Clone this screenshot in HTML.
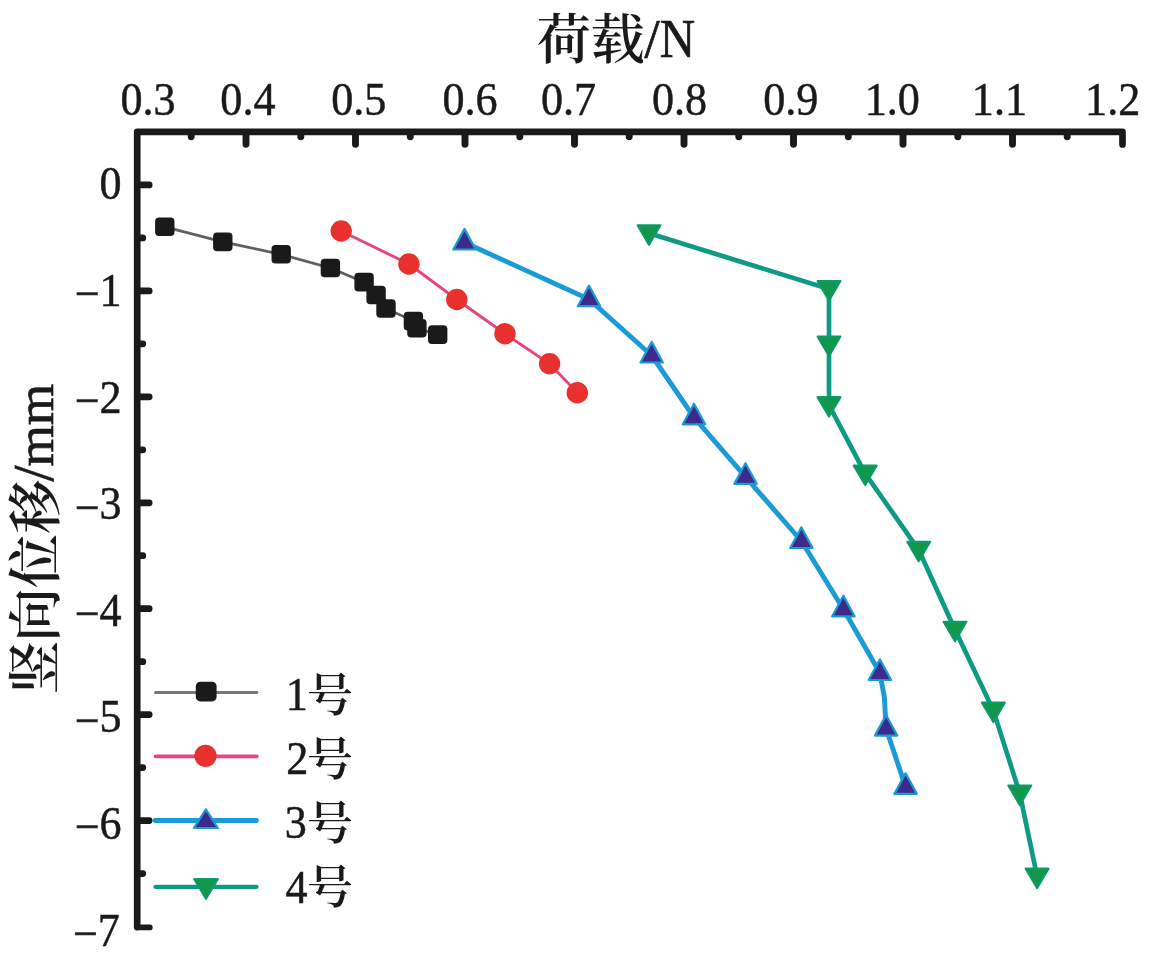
<!DOCTYPE html>
<html lang="zh"><head><meta charset="utf-8"><title>荷载-竖向位移</title>
<style>
html,body{margin:0;padding:0;background:#fff;}
body{width:1160px;height:959px;overflow:hidden;}
svg{display:block;filter:blur(.45px);}
text{font-family:"Liberation Serif","Noto Serif CJK SC",serif;fill:#1a1a1a;}
.tk{font-size:46.6px;stroke:#1a1a1a;stroke-width:.5px;}
.cj{font-size:54px;font-weight:600;}
.la{font-size:54.4px;stroke:#1a1a1a;stroke-width:.7px;}
.lc{font-size:46px;font-weight:600;}
</style></head><body>
<svg width="1160" height="959" viewBox="0 0 1160 959">
<rect width="1160" height="959" fill="#fff"/>

<g fill="none" stroke="#1a1a1a" stroke-linecap="round" stroke-linejoin="round">
<path stroke-width="6.7" d="M137.2 926.9 V131.8 H1122.5 V144.4"/>
<path stroke-width="5.7" d="M137.2 927.4 H149.8"/>
<path stroke-width="6.9" d="M246.0 132.8 V144.2 M355.5 132.8 V144.2 M465.0 132.8 V144.2 M574.5 132.8 V144.2 M684.0 132.8 V144.2 M793.5 132.8 V144.2 M903.0 132.8 V144.2 M1012.5 132.8 V144.2"/>
<path stroke-width="6.9" d="M191.2 132.8 V136.8 M300.8 132.8 V136.8 M410.3 132.8 V136.8 M519.8 132.8 V136.8 M629.2 132.8 V136.8 M738.8 132.8 V136.8 M848.3 132.8 V136.8 M957.8 132.8 V136.8 M1067.2 132.8 V136.8"/>
<path stroke-width="6.7" d="M138.2 184.9 H149.2 M138.2 290.9 H149.2 M138.2 396.8 H149.2 M138.2 502.8 H149.2 M138.2 608.7 H149.2 M138.2 714.6 H149.2 M138.2 820.6 H149.2"/>
<path stroke-width="6.7" d="M138.2 237.9 H142.8 M138.2 343.8 H142.8 M138.2 449.8 H142.8 M138.2 555.7 H142.8 M138.2 661.7 H142.8 M138.2 767.6 H142.8 M138.2 873.6 H142.8"/>
</g>
<text class="tk" transform="translate(120.50 114.7) scale(0.947 1)">0.3</text>
<text class="tk" transform="translate(220.35 114.7) scale(0.947 1)">0.4</text>
<text class="tk" transform="translate(331.25 114.7) scale(0.947 1)">0.5</text>
<text class="tk" transform="translate(442.40 114.7) scale(0.947 1)">0.6</text>
<text class="tk" transform="translate(541.00 114.7) scale(0.947 1)">0.7</text>
<text class="tk" transform="translate(652.00 114.7) scale(0.947 1)">0.8</text>
<text class="tk" transform="translate(763.15 114.7) scale(0.947 1)">0.9</text>
<text class="tk" transform="translate(864.65 114.7) scale(0.947 1)">1.0</text>
<text class="tk" transform="translate(971.85 114.7) scale(0.947 1)">1.1</text>
<text class="tk" transform="translate(1085.10 114.7) scale(0.947 1)">1.2</text>
<text class="tk" text-anchor="end" transform="translate(121.6 199.2) scale(0.947 1)">0</text>
<text class="tk" text-anchor="end" transform="translate(121.6 305.8) scale(0.947 1)"><tspan dy="3.4">−</tspan><tspan dy="-3.4">1</tspan></text>
<text class="tk" text-anchor="end" transform="translate(121.6 412.5) scale(0.947 1)"><tspan dy="3.4">−</tspan><tspan dy="-3.4">2</tspan></text>
<text class="tk" text-anchor="end" transform="translate(121.6 519.1) scale(0.947 1)"><tspan dy="3.4">−</tspan><tspan dy="-3.4">3</tspan></text>
<text class="tk" text-anchor="end" transform="translate(121.6 625.8) scale(0.947 1)"><tspan dy="3.4">−</tspan><tspan dy="-3.4">4</tspan></text>
<text class="tk" text-anchor="end" transform="translate(121.6 732.4) scale(0.947 1)"><tspan dy="3.4">−</tspan><tspan dy="-3.4">5</tspan></text>
<text class="tk" text-anchor="end" transform="translate(121.6 839.0) scale(0.947 1)"><tspan dy="3.4">−</tspan><tspan dy="-3.4">6</tspan></text>
<text class="tk" text-anchor="end" transform="translate(119.9 945.7) scale(0.947 1)"><tspan dy="3.4">−</tspan><tspan dy="-3.4">7</tspan></text>
<text class="cj" x="536.70" y="59.30">荷载</text>
<text class="la" x="644.40" y="57.2">/</text>
<text class="la" transform="translate(659.70 57.2) scale(0.9 1.02)">N</text>
<g transform="translate(53.30 0) rotate(-90)">
<text class="cj" x="-694.5 -642.1 -587.9 -533.7" y="1.20">竖向位移</text>
<text class="la" transform="translate(-481.60 0) scale(1.06 1.05)">/</text>
<text class="la" style="font-size:53.3px" x="-466.60" y="0">mm</text>
</g>
<polyline fill="none" stroke="#606060" stroke-width="2.8" points="164.8,226.8 222.8,241.9 281.2,254.3 330.4,268.0 364.1,282.1 376.1,295.0 386.0,308.5 413.4,321.1 416.9,328.3 437.7,334.6"/>
<rect x="155.1" y="217.5" width="19.4" height="18.6" rx="4" fill="#1a1a1a"/>
<rect x="213.1" y="232.6" width="19.4" height="18.6" rx="4" fill="#1a1a1a"/>
<rect x="271.5" y="245.0" width="19.4" height="18.6" rx="4" fill="#1a1a1a"/>
<rect x="320.7" y="258.7" width="19.4" height="18.6" rx="4" fill="#1a1a1a"/>
<rect x="354.4" y="272.8" width="19.4" height="18.6" rx="4" fill="#1a1a1a"/>
<rect x="366.4" y="285.7" width="19.4" height="18.6" rx="4" fill="#1a1a1a"/>
<rect x="376.3" y="299.2" width="19.4" height="18.6" rx="4" fill="#1a1a1a"/>
<rect x="403.7" y="311.8" width="19.4" height="18.6" rx="4" fill="#1a1a1a"/>
<rect x="407.2" y="319.0" width="19.4" height="18.6" rx="4" fill="#1a1a1a"/>
<rect x="428.0" y="325.3" width="19.4" height="18.6" rx="4" fill="#1a1a1a"/>
<polyline fill="none" stroke="#e8457c" stroke-width="2.9" points="341.2,231.0 408.9,264.0 456.8,299.5 505.0,333.8 549.6,363.8 577.3,392.7"/>
<circle cx="341.2" cy="231.0" r="10.7" fill="#e8302f"/>
<circle cx="408.9" cy="264.0" r="10.7" fill="#e8302f"/>
<circle cx="456.8" cy="299.5" r="10.7" fill="#e8302f"/>
<circle cx="505.0" cy="333.8" r="10.7" fill="#e8302f"/>
<circle cx="549.6" cy="363.8" r="10.7" fill="#e8302f"/>
<circle cx="577.3" cy="392.7" r="10.7" fill="#e8302f"/>
<polyline fill="none" stroke="#1a9ad7" stroke-width="4.9" stroke-linejoin="round" points="464.5,242.5 589.0,299.2 651.7,355.5 694.0,417.3 745.5,476.9 801.4,541.0 843.4,609.3 879.9,673.0 884.4,697.5 886.1,728.6 905.6,786.9"/>
<path d="M464.5 228.9 L475.7 249.5 H453.3 Z" fill="#3d2a8a" stroke="#1a9ad7" stroke-width="2.2" stroke-linejoin="round"/>
<path d="M589.0 285.6 L600.2 306.2 H577.8 Z" fill="#3d2a8a" stroke="#1a9ad7" stroke-width="2.2" stroke-linejoin="round"/>
<path d="M651.7 341.9 L662.9 362.5 H640.5 Z" fill="#3d2a8a" stroke="#1a9ad7" stroke-width="2.2" stroke-linejoin="round"/>
<path d="M694.0 403.7 L705.2 424.3 H682.8 Z" fill="#3d2a8a" stroke="#1a9ad7" stroke-width="2.2" stroke-linejoin="round"/>
<path d="M745.5 463.3 L756.7 483.9 H734.3 Z" fill="#3d2a8a" stroke="#1a9ad7" stroke-width="2.2" stroke-linejoin="round"/>
<path d="M801.4 527.4 L812.6 548.0 H790.2 Z" fill="#3d2a8a" stroke="#1a9ad7" stroke-width="2.2" stroke-linejoin="round"/>
<path d="M843.4 595.7 L854.6 616.3 H832.2 Z" fill="#3d2a8a" stroke="#1a9ad7" stroke-width="2.2" stroke-linejoin="round"/>
<path d="M879.9 659.4 L891.1 680.0 H868.7 Z" fill="#3d2a8a" stroke="#1a9ad7" stroke-width="2.2" stroke-linejoin="round"/>
<path d="M886.1 715.0 L897.3 735.6 H874.9 Z" fill="#3d2a8a" stroke="#1a9ad7" stroke-width="2.2" stroke-linejoin="round"/>
<path d="M905.6 773.3 L916.8 793.9 H894.4 Z" fill="#3d2a8a" stroke="#1a9ad7" stroke-width="2.2" stroke-linejoin="round"/>
<polyline fill="none" stroke="#0e9a84" stroke-width="4.7" stroke-linejoin="round" points="649.0,233.3 829.0,289.0 829.0,344.5 829.0,405.1 865.2,473.6 918.7,549.8 955.0,629.8 993.4,710.6 1019.8,793.5 1037.1,876.6"/>
<path d="M649.0 244.7 L660.4 225.3 H637.6 Z" fill="#10974a" stroke="#0d9a68" stroke-width="2.2" stroke-linejoin="round"/>
<path d="M829.0 300.4 L840.4 281.0 H817.6 Z" fill="#10974a" stroke="#0d9a68" stroke-width="2.2" stroke-linejoin="round"/>
<path d="M829.0 355.9 L840.4 336.5 H817.6 Z" fill="#10974a" stroke="#0d9a68" stroke-width="2.2" stroke-linejoin="round"/>
<path d="M829.0 416.5 L840.4 397.1 H817.6 Z" fill="#10974a" stroke="#0d9a68" stroke-width="2.2" stroke-linejoin="round"/>
<path d="M865.2 485.0 L876.6 465.6 H853.8 Z" fill="#10974a" stroke="#0d9a68" stroke-width="2.2" stroke-linejoin="round"/>
<path d="M918.7 561.2 L930.1 541.8 H907.3 Z" fill="#10974a" stroke="#0d9a68" stroke-width="2.2" stroke-linejoin="round"/>
<path d="M955.0 641.2 L966.4 621.8 H943.6 Z" fill="#10974a" stroke="#0d9a68" stroke-width="2.2" stroke-linejoin="round"/>
<path d="M993.4 722.0 L1004.8 702.6 H982.0 Z" fill="#10974a" stroke="#0d9a68" stroke-width="2.2" stroke-linejoin="round"/>
<path d="M1019.8 804.9 L1031.2 785.5 H1008.4 Z" fill="#10974a" stroke="#0d9a68" stroke-width="2.2" stroke-linejoin="round"/>
<path d="M1037.1 888.0 L1048.5 868.6 H1025.7 Z" fill="#10974a" stroke="#0d9a68" stroke-width="2.2" stroke-linejoin="round"/>
<line x1="155.5" x2="256.8" y1="692.5" y2="692.5" stroke="#777" stroke-width="3" stroke-linecap="round"/>
<rect x="195.8" y="681.8" width="20.8" height="19.6" rx="4.5" fill="#1a1a1a"/>
<line x1="155.5" x2="256.8" y1="756.4" y2="756.4" stroke="#e8457c" stroke-width="3.6" stroke-linecap="round"/>
<circle cx="205.5" cy="755.8" r="11.1" fill="#e8302f"/>
<line x1="155" x2="256.5" y1="820.5" y2="820.5" stroke="#1a9ad7" stroke-width="4.8" stroke-linecap="round"/>
<path d="M205.9 809.3 L217.9 828 H193.9 Z" fill="#3d2a8a" stroke="#1a9ad7" stroke-width="2.2" stroke-linejoin="round"/>
<line x1="155.5" x2="256.5" y1="886.8" y2="886.8" stroke="#0e9a84" stroke-width="4.3" stroke-linecap="round"/>
<path d="M206 898.8 L217.8 879 H194.2 Z" fill="#10974a" stroke="#0d9a68" stroke-width="2.2" stroke-linejoin="round"/>
<text class="tk" transform="translate(285.80 709.9) scale(0.947 1)">1</text>
<text class="lc" x="307.10" y="710.50">号</text>
<text class="tk" transform="translate(286.30 774.1) scale(0.947 1)">2</text>
<text class="lc" x="307.10" y="774.70">号</text>
<text class="tk" transform="translate(284.80 838.3) scale(0.947 1)">3</text>
<text class="lc" x="307.10" y="838.90">号</text>
<text class="tk" transform="translate(285.60 902.5) scale(0.947 1)">4</text>
<text class="lc" x="307.10" y="903.10">号</text>
</svg></body></html>
